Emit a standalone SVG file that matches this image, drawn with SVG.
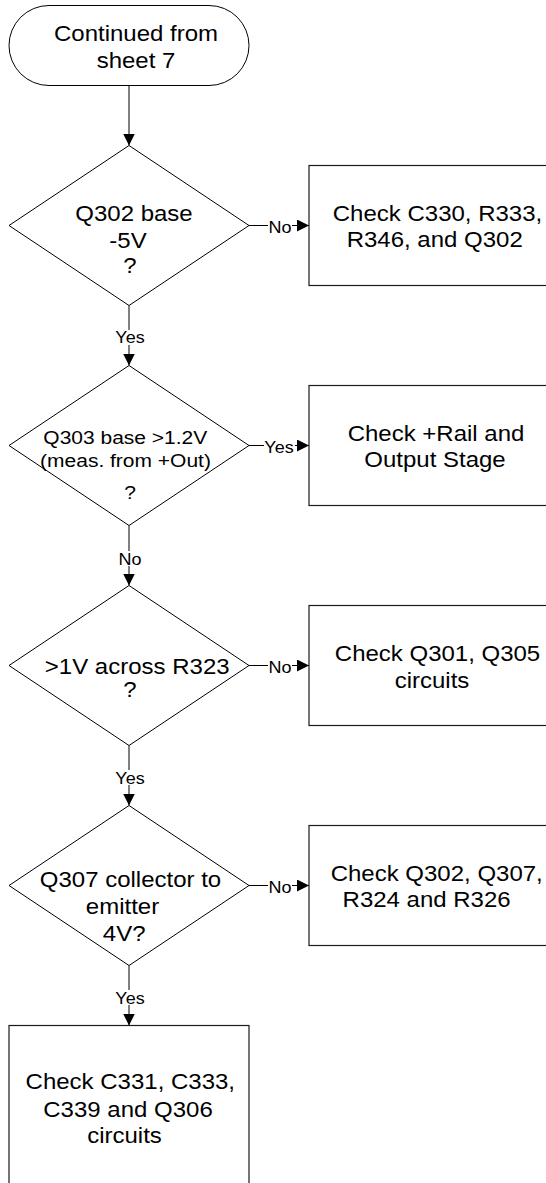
<svg xmlns="http://www.w3.org/2000/svg" width="546" height="1183" viewBox="0 0 546 1183">
<style>
  .shape { fill: #ffffff; stroke: #000000; stroke-width: 1; }
  .box { fill: #ffffff; stroke: #1a1a1a; stroke-width: 1.2; }
  .t { font-family: "Liberation Sans", Arial, sans-serif; font-size: 24px; fill: #000000; text-anchor: middle; }
  .t21 { font-family: "Liberation Sans", Arial, sans-serif; font-size: 21px; fill: #000000; text-anchor: middle; }
  .lbl { font-family: "Liberation Sans", Arial, sans-serif; font-size: 18px; fill: #000000; text-anchor: middle; }
  .line { fill: none; stroke: #000000; stroke-width: 1; }
  .lblbg { fill: #ffffff; stroke: none; }
</style>
<defs>
  <marker id="arrow" markerUnits="userSpaceOnUse" markerWidth="12" markerHeight="12" refX="12" refY="6" orient="auto">
    <path d="M0,0 L12,6 L0,12 Z" fill="#000000"/>
  </marker>
</defs>
<rect width="546" height="1183" fill="#ffffff"/>

<g id="connectors">
  <path class="line" d="M129,85.5 V145.5" marker-end="url(#arrow)"/>
  <path class="line" d="M249,225.5 H309" marker-end="url(#arrow)"/>
  <path class="line" d="M129,305.5 V365.5" marker-end="url(#arrow)"/>
  <path class="line" d="M249,445.5 H309" marker-end="url(#arrow)"/>
  <path class="line" d="M129,525.5 V585.5" marker-end="url(#arrow)"/>
  <path class="line" d="M249,665.5 H309" marker-end="url(#arrow)"/>
  <path class="line" d="M129,745.5 V805.5" marker-end="url(#arrow)"/>
  <path class="line" d="M249,885.5 H309" marker-end="url(#arrow)"/>
  <path class="line" d="M129,965.5 V1025.5" marker-end="url(#arrow)"/>

  <rect class="lblbg" x="268" y="219" width="24" height="15"/>
  <text class="lbl" transform="translate(280,233.3) scale(1,0.9)">No</text>
  <rect class="lblbg" x="114" y="330" width="32" height="15"/>
  <text class="lbl" transform="translate(130,343.3) scale(1,0.9)">Yes</text>
  <rect class="lblbg" x="264" y="439" width="31" height="15"/>
  <text class="lbl" transform="translate(279,453.3) scale(1,0.9)">Yes</text>
  <rect class="lblbg" x="118" y="551" width="24" height="15"/>
  <text class="lbl" transform="translate(130,565) scale(1,0.9)">No</text>
  <rect class="lblbg" x="268" y="659" width="24" height="15"/>
  <text class="lbl" transform="translate(280,673.3) scale(1,0.9)">No</text>
  <rect class="lblbg" x="114" y="770" width="32" height="15"/>
  <text class="lbl" transform="translate(130,784) scale(1,0.9)">Yes</text>
  <rect class="lblbg" x="268" y="879" width="24" height="15"/>
  <text class="lbl" transform="translate(280,893.3) scale(1,0.9)">No</text>
  <rect class="lblbg" x="114" y="990" width="32" height="15"/>
  <text class="lbl" transform="translate(130,1004) scale(1,0.9)">Yes</text>
</g>

<g id="start">
  <rect class="shape" x="9" y="5.5" width="240" height="80" rx="40" ry="40"/>
  <text class="t" transform="translate(136,41) scale(1,0.9)">Continued from</text>
  <text class="t" transform="translate(136,68) scale(1,0.9)">sheet 7</text>
</g>

<g id="d1">
  <polygon class="shape" points="129,145.5 249,225.5 129,305.5 9,225.5"/>
  <text class="t" transform="translate(134,221) scale(1,0.9)">Q302 base</text>
  <text class="t" transform="translate(128,248.3) scale(1,0.9)">-5V</text>
  <text class="t" transform="translate(130,272.7) scale(1,0.9)">?</text>
</g>

<g id="b1">
  <rect class="box" x="309" y="165.5" width="257" height="120"/>
  <text class="t" transform="translate(437.5,220.7) scale(1,0.9)">Check C330, R333,</text>
  <text class="t" transform="translate(434.7,246.7) scale(1,0.9)">R346, and Q302</text>
</g>

<g id="d2">
  <polygon class="shape" points="129,365.5 249,445.5 129,525.5 9,445.5"/>
  <text class="t21" transform="translate(125.3,444) scale(1,0.9)">Q303 base &gt;1.2V</text>
  <text class="t21" transform="translate(125.5,466.7) scale(1,0.9)">(meas. from +Out)</text>
  <text class="t21" transform="translate(130,499) scale(1,0.9)">?</text>
</g>

<g id="b2">
  <rect class="box" x="309" y="385.5" width="257" height="120"/>
  <text class="t" transform="translate(436,440.7) scale(1,0.9)">Check +Rail and</text>
  <text class="t" transform="translate(435,467) scale(1,0.9)">Output Stage</text>
</g>

<g id="d3">
  <polygon class="shape" points="129,585.5 249,665.5 129,745.5 9,665.5"/>
  <text class="t" transform="translate(137.2,673.5) scale(1,0.9)">&gt;1V across R323</text>
  <text class="t" transform="translate(130,697) scale(1,0.9)">?</text>
</g>

<g id="b3">
  <rect class="box" x="309" y="605.5" width="257" height="120"/>
  <text class="t" transform="translate(437.5,661) scale(1,0.9)">Check Q301, Q305</text>
  <text class="t" transform="translate(432,688.3) scale(1,0.9)">circuits</text>
</g>

<g id="d4">
  <polygon class="shape" points="129,805.5 249,885.5 129,965.5 9,885.5"/>
  <text class="t" transform="translate(130.5,886.7) scale(1,0.9)">Q307 collector to</text>
  <text class="t" transform="translate(122.5,914) scale(1,0.9)">emitter</text>
  <text class="t" transform="translate(124.2,941) scale(1,0.9)">4V?</text>
</g>

<g id="b4">
  <rect class="box" x="309" y="825.5" width="257" height="120"/>
  <text class="t" transform="translate(436.7,880.7) scale(1,0.9)">Check Q302, Q307,</text>
  <text class="t" transform="translate(426.6,906.7) scale(1,0.9)">R324 and R326</text>
</g>

<g id="b5">
  <rect class="box" x="9" y="1025.5" width="240" height="160"/>
  <text class="t" transform="translate(130.3,1089.3) scale(1,0.9)">Check C331, C333,</text>
  <text class="t" transform="translate(128,1116.7) scale(1,0.9)">C339 and Q306</text>
  <text class="t" transform="translate(124.5,1142.7) scale(1,0.9)">circuits</text>
</g>
</svg>
